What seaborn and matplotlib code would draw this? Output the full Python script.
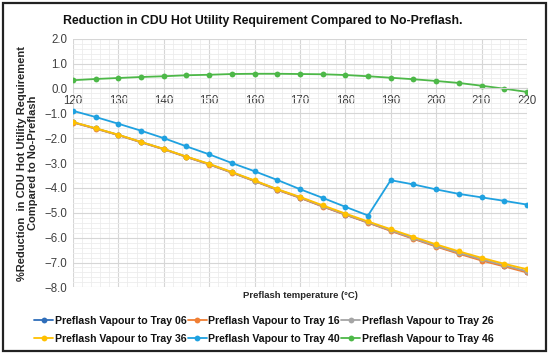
import numpy as np
import pandas as pd
import matplotlib
matplotlib.use("Agg")
import matplotlib.pyplot as plt
from matplotlib.patches import Rectangle
from matplotlib.ticker import MultipleLocator
import seaborn as sns

temps = list(range(120, 221, 5))

tray06 = [-1.36, -1.61, -1.87, -2.16, -2.44, -2.75, -3.05, -3.38, -3.72, -4.07, -4.39,
          -4.74, -5.07, -5.39, -5.71, -6.03, -6.34, -6.62, -6.89, -7.13, -7.37]
tray16 = [-1.37, -1.62, -1.88, -2.17, -2.45, -2.76, -3.06, -3.39, -3.73, -4.08, -4.40,
          -4.75, -5.08, -5.40, -5.73, -6.05, -6.36, -6.65, -6.92, -7.16, -7.40]
tray26 = [-1.36, -1.61, -1.87, -2.16, -2.44, -2.75, -3.05, -3.38, -3.72, -4.06, -4.38,
          -4.73, -5.06, -5.38, -5.70, -6.02, -6.33, -6.61, -6.87, -7.11, -7.35]
tray36 = [-1.35, -1.60, -1.86, -2.15, -2.43, -2.74, -3.03, -3.36, -3.70, -4.05, -4.36,
          -4.70, -5.03, -5.35, -5.66, -5.97, -6.27, -6.55, -6.81, -7.05, -7.27]
tray40 = [-0.90, -1.15, -1.42, -1.70, -2.00, -2.33, -2.65, -3.00, -3.33, -3.68, -4.05,
          -4.40, -4.76, -5.11, -3.69, -3.86, -4.06, -4.24, -4.38, -4.52, -4.67]
tray46 = [0.33, 0.38, 0.42, 0.46, 0.49, 0.53, 0.55, 0.58, 0.59, 0.59, 0.58,
          0.57, 0.54, 0.49, 0.43, 0.37, 0.30, 0.22, 0.11, -0.01, -0.14]

names = ["Preflash Vapour to Tray 06", "Preflash Vapour to Tray 16",
         "Preflash Vapour to Tray 26", "Preflash Vapour to Tray 36",
         "Preflash Vapour to Tray 40", "Preflash Vapour to Tray 46"]
colors = ["#2F6EBA", "#F07F34", "#A5A5A5", "#FFC000", "#1FA1E0", "#4DB848"]

rows = []
for name, vals in zip(names, [tray06, tray16, tray26, tray36, tray40, tray46]):
    for t, v in zip(temps, vals):
        rows.append({"Temp": t, "Value": v, "Series": name})
df = pd.DataFrame(rows)

sns.set_theme(style="white")
plt.rcParams['font.family'] = ['Liberation Sans', 'DejaVu Sans']

fig = plt.figure(figsize=(5.5, 3.57), dpi=100)
ax = fig.add_axes([0.1327, 0.195, 0.8253, 0.6966])

sns.lineplot(data=df, x="Temp", y="Value", hue="Series", hue_order=names,
             palette=colors, marker="o", markersize=4.2, markeredgewidth=0,
             linewidth=1.3, ax=ax, legend=True)

ax.set_xlim(120, 220)
ax.set_ylim(-8, 2)
ax.xaxis.set_major_locator(MultipleLocator(10))
ax.xaxis.set_minor_locator(MultipleLocator(2))
ax.yaxis.set_major_locator(MultipleLocator(1))
ax.yaxis.set_minor_locator(MultipleLocator(0.2))
ax.grid(which="major", color="#D6D6D6", linewidth=0.8)
ax.grid(which="minor", color="#ECECEC", linewidth=0.6)
ax.set_axisbelow(True)

for s in ["top", "right", "left"]:
    ax.spines[s].set_visible(False)
ax.spines["bottom"].set_position(("data", 0))
ax.spines["bottom"].set_color("#D0D0D0")
ax.spines["bottom"].set_linewidth(0.8)
ax.tick_params(axis="both", which="both", length=0, labelsize=8.3, colors="#404040")
ax.tick_params(axis="x", pad=4.5)
ax.tick_params(axis="y", pad=4)
ax.yaxis.set_major_formatter(plt.FuncFormatter(lambda v, p: f"{v:.1f}".replace("-", "\u2212")))

ax.set_xlabel("")
ax.set_ylabel("%Reduction  in CDU Hot Utility Requirement\nCompared to No-Preflash",
              fontsize=8.0, fontweight="bold", color="#262626", labelpad=5, linespacing=1.05)
fig.text(0.5455, 0.171, "Preflash temperature (\u00b0C)", ha="center", va="center",
         fontsize=6.8, fontweight="bold", color="#262626")
fig.text(0.478, 0.942, "Reduction in CDU Hot Utility Requirement Compared to No-Preflash.",
         ha="center", va="center", fontsize=8.8, fontweight="bold", color="#111111")

handles, labels = ax.get_legend_handles_labels()
ax.legend_.remove()
# legend fills column by column, so reorder to read row by row
order = [0, 3, 1, 4, 2, 5]
leg = fig.legend([handles[i] for i in order], [labels[i] for i in order],
                 loc="center", bbox_to_anchor=(0.48, 0.076), ncol=3,
                 frameon=False, handlelength=1.8, handletextpad=0.15, columnspacing=0.1,
                 labelspacing=0.7, prop={"size": 7.6, "weight": "bold"})
for t in leg.get_texts():
    t.set_color("#111111")

fig.patches.append(Rectangle((0.006, 0.016), 0.987, 0.976, transform=fig.transFigure,
                             fill=False, edgecolor="#222222", linewidth=1.6))

fig.savefig("out.png", dpi=100)
